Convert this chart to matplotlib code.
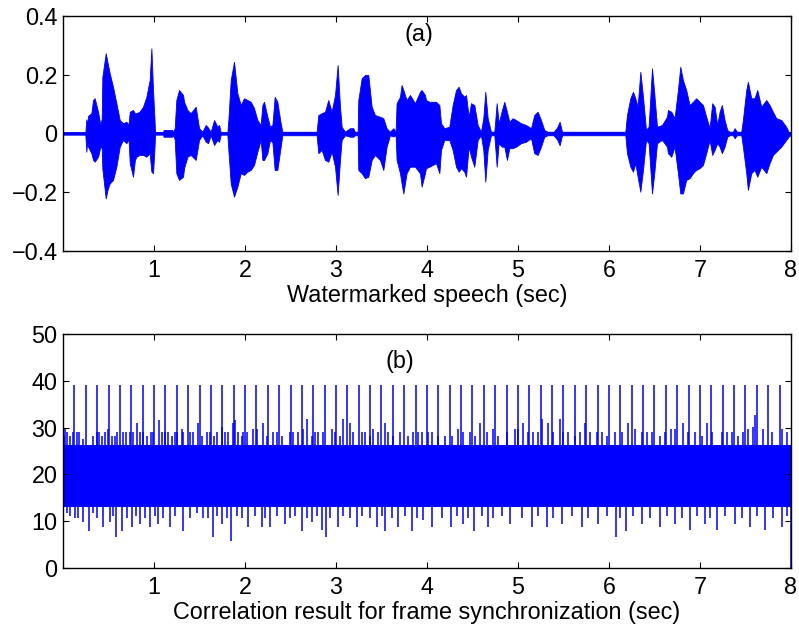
import matplotlib
matplotlib.use("Agg")
import matplotlib.pyplot as plt
import numpy as np

plt.rcParams['font.family'] = ['Liberation Sans', 'DejaVu Sans']

# ---- (a) watermarked speech: envelope ----
speech_t = [0.0, 0.245, 0.256, 0.265, 0.275, 0.311, 0.330, 0.348, 0.385, 0.410, 0.425, 0.432,
            0.469, 0.490, 0.513, 0.549, 0.586, 0.623, 0.659, 0.696, 0.720, 0.733, 0.769, 0.790,
            0.806, 0.840, 0.879, 0.916, 0.952, 0.971, 0.989, 1.005, 1.011, 1.099, 1.105, 1.200,
            1.209, 1.227, 1.245, 1.275, 1.319,
            1.330, 1.367, 1.403, 1.458, 1.495, 1.531, 1.568, 1.594, 1.623, 1.660, 1.696, 1.715,
            1.733, 1.806, 1.817, 1.843, 1.879, 1.916, 1.953, 1.989, 2.026, 2.063, 2.099, 2.136,
            2.172, 2.191, 2.209, 2.246, 2.275, 2.301, 2.326, 2.355, 2.392, 2.410, 2.787,
            2.806, 2.842, 2.879, 2.915, 2.952, 2.989, 3.018, 3.044, 3.062, 3.099, 3.153, 3.190,
            3.208, 3.238, 3.245, 3.282, 3.318, 3.355, 3.392, 3.428, 3.483, 3.520, 3.556, 3.593,
            3.630, 3.655, 3.666, 3.703, 3.721, 3.740, 3.776, 3.813, 3.868, 3.923, 3.941, 3.978,
            3.989, 4.026, 4.099, 4.136, 4.154, 4.190, 4.245, 4.282, 4.319, 4.348, 4.374, 4.410,
            4.429, 4.458, 4.484, 4.520, 4.557, 4.593, 4.619, 4.641, 4.667, 4.703, 4.740, 4.766,
            4.788, 4.824, 4.850, 4.879, 4.905, 4.941, 4.978, 5.033, 5.088, 5.143, 5.179, 5.216,
            5.253, 5.289, 5.326, 5.392, 5.429, 5.458, 5.484, 6.180, 6.198, 6.235, 6.264, 6.290,
            6.315, 6.345, 6.374, 6.407, 6.436, 6.473, 6.498, 6.528, 6.583, 6.638,
            6.648, 6.685, 6.721, 6.758, 6.784, 6.813, 6.849, 6.886, 6.923, 6.959, 6.996, 7.033,
            7.069, 7.106, 7.135, 7.161, 7.190, 7.216, 7.241, 7.271, 7.300, 7.326, 7.362, 7.381,
            7.406, 7.454, 7.472, 7.509, 7.527, 7.564, 7.600, 7.630, 7.674, 7.729, 7.765, 7.802,
            7.838, 7.893, 7.948, 7.974, 8.0]
speech_hi = [0.004, 0.004, 0.048, 0.030, 0.060, 0.069, 0.114, 0.120, 0.074, 0.029, 0.050, 0.193,
             0.273, 0.240, 0.205, 0.159, 0.103, 0.046, 0.035, 0.040, 0.030, 0.074, 0.080, 0.069,
             0.069, 0.074, 0.091, 0.125, 0.182, 0.290, 0.148, 0.050, 0.004, 0.004, 0.012, 0.012,
             0.004, 0.018, 0.114, 0.148, 0.131,
             0.108, 0.080, 0.069, 0.091, 0.018, 0.006, 0.029, 0.020, 0.006, 0.046, 0.023, 0.029,
             0.004, 0.004, 0.046, 0.182, 0.244, 0.137, 0.097, 0.120, 0.114, 0.108, 0.086, 0.046,
             0.029, 0.097, 0.108, 0.057, 0.023, 0.029, 0.125, 0.108, 0.035, 0.006, 0.006,
             0.063, 0.069, 0.074, 0.114, 0.074, 0.131, 0.233, 0.091, 0.023, 0.006, 0.018, 0.018,
             0.006, 0.006, 0.114, 0.188, 0.199, 0.199, 0.091, 0.063, 0.057, 0.052, 0.018, 0.006,
             0.018, 0.006, 0.103, 0.125, 0.165, 0.148, 0.114, 0.131, 0.103, 0.142, 0.148, 0.131,
             0.114, 0.108, 0.108, 0.097, 0.035, 0.018, 0.023, 0.097, 0.148, 0.159, 0.137, 0.125,
             0.131, 0.057, 0.103, 0.097, 0.029, 0.006, 0.052, 0.142, 0.052, 0.006, 0.006, 0.103,
             0.035, 0.080, 0.108, 0.074, 0.040, 0.052, 0.046, 0.035, 0.029, 0.018, 0.063, 0.074,
             0.046, 0.012, 0.006, 0.006, 0.020, 0.040, 0.006, 0.006, 0.063, 0.120, 0.142, 0.120,
             0.091, 0.210, 0.125, 0.012, 0.023, 0.222, 0.137, 0.023, 0.029, 0.057,
             0.080, 0.074, 0.052, 0.148, 0.227, 0.182, 0.148, 0.097, 0.108, 0.120, 0.108, 0.097,
             0.057, 0.018, 0.103, 0.091, 0.029, 0.074, 0.097, 0.046, 0.012, 0.006, 0.006, 0.018,
             0.006, 0.006, 0.046, 0.148, 0.176, 0.120, 0.120, 0.148, 0.091, 0.114, 0.097, 0.074,
             0.052, 0.046, 0.023, 0.006, 0.004]
speech_lo = [-0.004, -0.004, -0.062, -0.030, -0.045, -0.067, -0.090, -0.096, -0.079, -0.045, -0.050, -0.120,
             -0.221, -0.190, -0.170, -0.158, -0.113, -0.045, -0.022, -0.033, -0.020, -0.101, -0.147, -0.090,
             -0.079, -0.073, -0.073, -0.079, -0.067, -0.130, -0.135, -0.050, -0.004, -0.004, -0.011, -0.011,
             -0.004, -0.020, -0.135, -0.158, -0.147,
             -0.118, -0.079, -0.073, -0.090, -0.022, -0.006, -0.028, -0.033, -0.006, -0.039, -0.022, -0.028,
             -0.004, -0.004, -0.056, -0.170, -0.215, -0.181, -0.135, -0.141, -0.130, -0.124, -0.107, -0.062,
             -0.022, -0.090, -0.090, -0.067, -0.022, -0.030, -0.124, -0.124, -0.045, -0.006, -0.006,
             -0.067, -0.056, -0.090, -0.096, -0.062, -0.113, -0.209, -0.090, -0.022, -0.006, -0.011, -0.011,
             -0.006, -0.006, -0.124, -0.135, -0.152, -0.147, -0.090, -0.073, -0.090, -0.124, -0.045, -0.006,
             -0.010, -0.006, -0.090, -0.135, -0.170, -0.204, -0.135, -0.113, -0.113, -0.135, -0.181, -0.135,
             -0.118, -0.113, -0.101, -0.135, -0.056, -0.022, -0.022, -0.056, -0.113, -0.130, -0.118, -0.130,
             -0.147, -0.045, -0.079, -0.113, -0.022, -0.006, -0.056, -0.164, -0.056, -0.006, -0.006, -0.113,
             -0.033, -0.045, -0.045, -0.090, -0.050, -0.050, -0.045, -0.033, -0.028, -0.016, -0.067, -0.073,
             -0.045, -0.011, -0.006, -0.006, -0.020, -0.040, -0.006, -0.006, -0.067, -0.113, -0.130, -0.101,
             -0.147, -0.198, -0.124, -0.022, -0.033, -0.204, -0.135, -0.033, -0.022, -0.045,
             -0.067, -0.079, -0.045, -0.135, -0.204, -0.204, -0.158, -0.152, -0.135, -0.124, -0.118, -0.107,
             -0.067, -0.022, -0.073, -0.056, -0.033, -0.045, -0.067, -0.045, -0.011, -0.006, -0.006, -0.016,
             -0.006, -0.006, -0.045, -0.135, -0.192, -0.135, -0.124, -0.147, -0.113, -0.135, -0.101, -0.073,
             -0.062, -0.045, -0.022, -0.011, -0.004]

# ---- (b) correlation result ----
sync_t = [0.125, 0.25, 0.375, 0.5, 0.625, 0.75, 0.875, 1.0, 1.125, 1.25, 1.375, 1.5, 1.625,
          1.75, 1.875, 2.0, 2.125, 2.25, 2.375, 2.5, 2.625, 2.75, 2.875, 3.0, 3.125, 3.25,
          3.375, 3.5, 3.625, 3.75, 3.875, 4.0, 4.125, 4.25, 4.375, 4.5, 4.625, 4.75, 4.875,
          5.0, 5.125, 5.25, 5.375, 5.5, 5.625, 5.75, 5.875, 6.0, 6.125, 6.25, 6.375, 6.5,
          6.625, 6.75, 6.875, 7.0, 7.125, 7.25, 7.375, 7.5, 7.625, 7.75, 7.875]
sync_peak = 39.0
band_t = [0.0, 8.0]
band_lo = [13.0, 13.0]
band_hi = [26.3, 26.3]
# largest upward / downward excursions of the noise
up_t = [0.022, 0.077, 0.150, 0.223, 0.370, 0.425, 0.498, 0.571, 0.663, 0.736, 0.810, 0.883,
        0.963, 1.055, 1.121, 1.231, 1.304, 1.396, 1.487, 1.579, 1.689, 1.744, 1.817, 1.872,
        1.890, 1.982, 2.092, 2.201, 2.311, 2.495, 2.641, 2.685, 2.806, 2.952, 3.081, 3.154,
        3.282, 3.410, 3.538, 3.703, 3.905, 4.051, 4.198, 4.344, 4.472, 4.582, 4.729, 4.967,
        5.059, 5.168, 5.267, 5.333, 5.462, 5.553, 5.736, 5.864, 6.066, 6.212, 6.286, 6.469,
        6.681, 6.817, 6.945, 7.073, 7.238, 7.348, 7.531, 7.604, 7.696, 7.897]
up_v = [29.8, 28.1, 29.1, 27.5, 29.1, 28.1, 29.8, 28.1, 29.1, 29.1, 30.9, 29.1,
        29.1, 31.6, 29.1, 29.1, 29.8, 29.1, 30.9, 29.1, 29.1, 30.2, 29.1, 31.0,
        31.6, 29.1, 29.8, 30.9, 29.1, 29.1, 29.8, 31.8, 29.1, 29.8, 31.8, 30.9,
        29.1, 29.8, 30.9, 29.1, 29.1, 29.1, 28.1, 29.8, 29.1, 30.9, 29.8, 29.8,
        30.9, 29.1, 31.8, 30.9, 31.8, 29.1, 30.9, 29.1, 29.1, 30.9, 29.8, 29.1,
        29.8, 30.9, 29.1, 30.9, 29.1, 29.1, 29.8, 32.7, 29.8, 29.8]
dn_t = [0.040, 0.132, 0.223, 0.289, 0.443, 0.516, 0.582, 0.645, 0.755, 0.846, 0.956, 1.048,
        1.176, 1.322, 1.542, 1.645, 1.744, 1.842, 2.037, 2.183, 2.275, 2.440, 2.623, 2.733,
        2.842, 2.890, 3.026, 3.227, 3.447, 3.538, 3.685, 3.832, 3.960, 4.051, 4.264, 4.399,
        4.520, 4.667, 4.912, 5.150, 5.315, 5.480, 5.700, 5.883, 6.073, 6.183, 6.359, 6.560,
        6.725, 6.890, 7.055, 7.183, 7.385, 7.549, 7.714, 7.897]
dn_v = [11.7, 10.6, 9.9, 7.8, 8.8, 9.9, 6.7, 7.8, 8.8, 9.5, 8.8, 9.5,
        8.8, 7.8, 10.6, 6.7, 9.5, 5.8, 8.8, 8.8, 8.8, 9.5, 7.8, 9.9,
        8.1, 6.7, 8.8, 8.8, 8.8, 7.8, 8.8, 7.8, 10.3, 8.8, 8.8, 9.5,
        7.8, 8.8, 9.5, 8.8, 8.8, 9.5, 8.8, 9.5, 6.7, 7.8, 9.5, 8.8,
        9.5, 8.1, 9.5, 8.1, 9.5, 8.8, 8.1, 8.8]
# smaller, more frequent excursions
up2_t = [0.011, 0.048, 0.106, 0.179, 0.333, 0.399, 0.462, 0.535, 0.597, 0.692, 0.773, 0.846,
         0.927, 0.993, 1.084, 1.158, 1.194, 1.256, 1.322, 1.432, 1.524, 1.615, 1.659, 1.780,
         1.927, 1.963, 2.018, 2.128, 2.238, 2.348, 2.403, 2.531, 2.586, 2.733, 2.769, 2.861,
         2.989, 3.044, 3.190, 3.319, 3.374, 3.465, 3.575, 3.630, 3.795, 3.850, 3.941,
         4.015, 4.125, 4.271, 4.399, 4.527, 4.656, 4.784, 4.875, 5.004, 5.114, 5.223, 5.388,
         5.498, 5.626, 5.681, 5.791, 5.919, 5.974, 6.139, 6.359, 6.414, 6.560, 6.615, 6.725,
         6.872, 7.018, 7.128, 7.293, 7.421, 7.476, 7.586, 7.787, 7.952]
up2_v = [28.1, 29.1, 29.1, 29.1, 28.1, 29.1, 29.1, 28.1, 29.1, 29.1, 29.1, 29.1,
         28.1, 29.1, 29.1, 29.1, 28.1, 29.1, 29.1, 29.1, 28.1, 29.1, 28.1, 29.1,
         29.1, 28.1, 29.1, 29.8, 28.1, 29.1, 28.1, 29.1, 29.1, 28.1, 29.1, 29.1,
         29.1, 28.1, 29.1, 29.1, 28.1, 29.1, 29.1, 28.1, 28.1, 29.1, 29.1,
         29.1, 28.1, 28.1, 29.1, 28.1, 29.1, 28.1, 29.1, 29.8, 29.1, 29.1, 29.1,
         29.1, 28.1, 29.1, 29.1, 29.1, 28.1, 29.1, 29.1, 29.1, 28.1, 29.1, 29.8,
         29.1, 28.1, 29.1, 29.1, 28.1, 29.1, 30.2, 29.1, 29.1]
dn2_t = [0.077, 0.168, 0.333, 0.370, 0.553, 0.700, 0.802, 0.901, 1.011, 1.103, 1.231, 1.396,
         1.469, 1.597, 1.689, 1.799, 1.908, 1.963, 2.110, 2.220, 2.348, 2.495, 2.549, 2.678,
         2.788, 2.934, 3.081, 3.154, 3.282, 3.374, 3.502, 3.612, 3.758, 3.886,
         4.161, 4.326, 4.454, 4.601, 4.729, 4.820, 5.040, 5.223, 5.388, 5.590, 5.773, 5.974,
         6.121, 6.267, 6.451, 6.634, 6.799, 6.963, 7.110, 7.275, 7.458, 7.623, 7.806, 7.952]
dn2_v = [11.0, 10.6, 11.7, 10.6, 11.0, 10.6, 11.0, 10.6, 11.0, 10.6, 11.0, 10.6,
         11.7, 10.6, 11.0, 10.6, 11.0, 10.6, 11.0, 10.6, 11.0, 10.6, 11.0, 10.6,
         11.0, 10.6, 11.0, 10.6, 11.0, 10.6, 11.0, 10.6, 11.0, 10.6,
         10.6, 11.0, 10.6, 11.0, 10.6, 11.0, 10.6, 11.0, 10.6, 11.0, 10.6, 11.0,
         10.6, 11.0, 10.6, 11.0, 10.6, 11.0, 10.6, 11.0, 10.6, 11.0, 10.6, 11.0]
edge_t = [0.0, 8.0]
edge_v = [33.0, 25.0]

blue = (0, 0, 1)
FS = 16.8
fig = plt.figure(figsize=(7.99, 6.26), dpi=100)
ax1 = fig.add_axes([0.0789, 0.599, 0.911, 0.3755])
ax2 = fig.add_axes([0.0789, 0.0927, 0.911, 0.3738])

ax1.fill_between(speech_t, speech_lo, speech_hi, color=blue, linewidth=0.6, edgecolor=blue)
ax1.plot([0, 8], [0, 0], color=blue, lw=1.2)
ax1.set_xlim(0, 8)
ax1.set_ylim(-0.4, 0.4)
ax1.set_yticks([-0.4, -0.2, 0, 0.2, 0.4])
ax1.set_yticklabels(['\u22120.4', '\u22120.2', '0', '0.2', '0.4'])
ax1.set_xticks(range(1, 9))
ax1.set_xlabel('Watermarked speech (sec)', fontsize=FS, labelpad=1)
ax1.text(3.91, 0.338, '(a)', fontsize=FS, ha='center', va='center')

ax2.fill_between(band_t, band_lo, band_hi, color=blue, linewidth=0)
ax2.vlines(up2_t, 20, up2_v, color=blue, lw=1.1)
ax2.vlines(dn2_t, dn2_v, 20, color=blue, lw=1.1)
ax2.vlines(up_t, 20, up_v, color=blue, lw=1.1)
ax2.vlines(dn_t, dn_v, 20, color=blue, lw=1.1)
ax2.vlines(sync_t, 20, sync_peak, color=blue, lw=1.1)
ax2.vlines(edge_t, 0, edge_v, color=blue, lw=1.1)
ax2.set_xlim(0, 8)
ax2.set_ylim(0, 50)
ax2.set_yticks(range(0, 51, 10))
ax2.set_xticks(range(1, 9))
ax2.set_xlabel('Correlation result for frame synchronization (sec)', fontsize=FS, labelpad=1)
ax2.text(3.7, 44.2, '(b)', fontsize=FS, ha='center', va='center')

for ax in (ax1, ax2):
    ax.tick_params(direction='in', top=True, right=True, length=4, width=0.8,
                   labelsize=FS)
    ax.tick_params(axis='x', pad=6)
    ax.tick_params(axis='y', pad=4)
    for s in ax.spines.values():
        s.set_linewidth(1.0)

fig.savefig('out.png', dpi=100)
